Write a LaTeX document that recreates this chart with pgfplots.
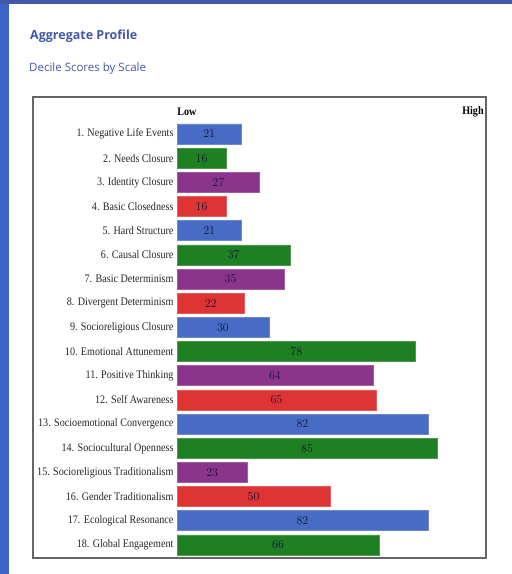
\documentclass[border=0pt]{standalone}
\usepackage{pgfplots}
\pgfplotsset{compat=1.18}
\usepackage{fontspec}
\setmainfont{Liberation Serif}
\newfontfamily\labfont[FakeStretch=0.88]{Liberation Serif}
\newfontfamily\titlefont{Open Sans}
\definecolor{ttl}{RGB}{66,88,168}
\definecolor{bblue}{RGB}{72,108,198}
\definecolor{bgreen}{RGB}{30,128,34}
\definecolor{bpurple}{RGB}{138,52,140}
\definecolor{bred}{RGB}{222,52,52}
\definecolor{edgeblue}{RGB}{62,100,200}
\definecolor{valtxt}{RGB}{20,20,50}
\begin{document}
\begin{tikzpicture}[x=1pt,y=1pt]
\useasboundingbox (0,0) rectangle (512,574);
\fill[white] (0,0) rectangle (512,574);
\fill[edgeblue] (0,0) rectangle (9,574);
\fill[ttl] (0,570) rectangle (512,574);
\node[anchor=base west, inner sep=0pt, text=ttl, font=\titlefont\bfseries\fontsize{12.5}{14}\selectfont] at (30,534) {Aggregate Profile};
\node[anchor=base west, inner sep=0pt, text=ttl, font=\titlefont\fontsize{11.5}{13}\selectfont] at (29,502) {Decile Scores by Scale};
\begin{axis}[
  at={(33pt,477pt)}, anchor=north west,
  scale only axis, width=453pt, height=461pt,
  xmin=-47.1, xmax=101, ymin=-0.53, ymax=18.54,
  y dir=reverse,
  axis line style={draw=black!60, line width=1.3pt},
  xtick=\empty,
  ytick={1,...,18},
  major tick length=0pt,
  yticklabels={1. Negative Life Events, 2. Needs Closure, 3. Identity Closure, 4. Basic Closedness, 5. Hard Structure, 6. Causal Closure, 7. Basic Determinism, 8. Divergent Determinism, 9. Socioreligious Closure, 10. Emotional Attunement, 11. Positive Thinking, 12. Self Awareness, 13. Socioemotional Convergence, 14. Sociocultural Openness, 15. Socioreligious Traditionalism, 16. Gender Traditionalism, 17. Ecological Resonance, 18. Global Engagement},
  yticklabel style={anchor=east, xshift=144pt, font=\labfont\fontsize{11.5}{13}\selectfont, text=black!85},
  clip=false,
]
\addplot[xbar, bar width=20pt, bar shift=0pt, fill=bblue, draw=bblue!80!white, line width=0.6pt] coordinates {(21,1) (21,5) (30,9) (82,13) (82,17)};
\addplot[xbar, bar width=20pt, bar shift=0pt, fill=bgreen, draw=bgreen!80!white, line width=0.6pt] coordinates {(16,2) (37,6) (78,10) (85,14) (66,18)};
\addplot[xbar, bar width=20pt, bar shift=0pt, fill=bpurple, draw=bpurple!80!white, line width=0.6pt] coordinates {(27,3) (35,7) (64,11) (23,15)};
\addplot[xbar, bar width=20pt, bar shift=0pt, fill=bred, draw=bred!80!white, line width=0.6pt] coordinates {(16,4) (22,8) (65,12) (50,16)};
\addplot[draw=none, mark=none, point meta=explicit,
  nodes near coords, every node near coord/.append style={anchor=center, font=\labfont\fontsize{11.5}{13}\selectfont, text=valtxt}]
  table[x expr=\thisrow{v}/2, y=y, meta=v] {
y v
1 21
2 16
3 27
4 16
5 21
6 37
7 35
8 22
9 30
10 78
11 64
12 65
13 82
14 85
15 23
16 50
17 82
18 66
};
\node[anchor=west, inner sep=0pt, font=\labfont\bfseries\fontsize{11.5}{13}\selectfont] at (axis cs:0,0.1) {Low};
\node[anchor=east, inner sep=0pt, font=\labfont\bfseries\fontsize{11.5}{13}\selectfont] at (axis cs:100.3,0.1) {High};
\end{axis}
\end{tikzpicture}
\end{document}
